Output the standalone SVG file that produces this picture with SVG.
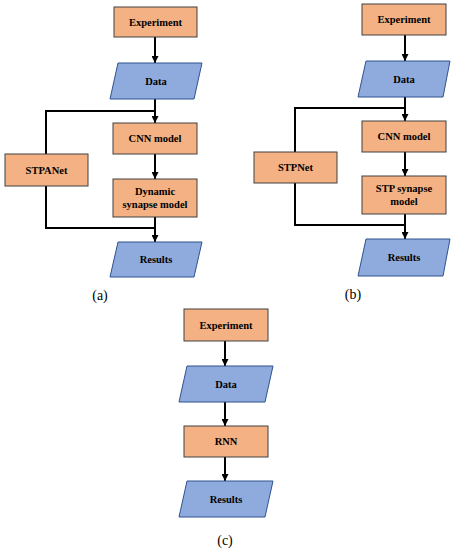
<svg xmlns="http://www.w3.org/2000/svg" width="454" height="550" viewBox="0 0 454 550">
<style>
.o{fill:#F4B183;stroke:#404040;stroke-width:1}
.b{fill:#8FAADC;stroke:#2F528F;stroke-width:1}
.t{font-family:"Liberation Serif",serif;font-weight:bold;font-size:10.5px;fill:#000;text-anchor:middle}
.c{fill:none;stroke:#000;stroke-width:2}
.lab{font-family:"Liberation Serif",serif;font-size:14px;fill:#000;text-anchor:middle}
</style>
<defs>
<marker id="ah" viewBox="0 0 10 10" refX="10" refY="5" markerWidth="3.5" markerHeight="3.5" orient="auto" markerUnits="strokeWidth">
<path d="M0,0 L10,5 L0,10 Z" fill="#000"/>
</marker>
</defs>
<rect width="454" height="550" fill="#fff"/>
<g id="connectors">
<line class="c" x1="155" y1="37" x2="155" y2="63" marker-end="url(#ah)"/>
<line class="c" x1="155" y1="99" x2="155" y2="123" marker-end="url(#ah)"/>
<polyline class="c" points="155,111 46,111 46,154"/>
<line class="c" x1="155" y1="154" x2="155" y2="179" marker-end="url(#ah)"/>
<polyline class="c" points="46,186 46,228 155,228"/>
<line class="c" x1="155" y1="217" x2="155" y2="242" marker-end="url(#ah)"/>
<line class="c" x1="405" y1="35" x2="405" y2="61" marker-end="url(#ah)"/>
<line class="c" x1="405" y1="97" x2="405" y2="121" marker-end="url(#ah)"/>
<polyline class="c" points="405,108 295,108 295,152"/>
<line class="c" x1="405" y1="152" x2="405" y2="176" marker-end="url(#ah)"/>
<polyline class="c" points="295,183 295,225 405,225"/>
<line class="c" x1="405" y1="214" x2="405" y2="239" marker-end="url(#ah)"/>
<line class="c" x1="225" y1="341" x2="225" y2="366" marker-end="url(#ah)"/>
<line class="c" x1="225" y1="402" x2="225" y2="426" marker-end="url(#ah)"/>
<line class="c" x1="225" y1="457" x2="225" y2="481" marker-end="url(#ah)"/>
</g>
<g id="a-experiment"><rect class="o" x="114" y="7" width="83" height="30"/><text class="t" x="155.5" y="25.5">Experiment</text></g>
<g id="a-data"><polygon class="b" points="118,63 202,63 194,99 110,99"/><text class="t" x="156" y="84.5">Data</text></g>
<g id="a-cnn"><rect class="o" x="113" y="123" width="84" height="31"/><text class="t" x="155" y="142">CNN model</text></g>
<g id="a-stpanet"><rect class="o" x="5" y="154" width="83" height="32"/><text class="t" x="46.5" y="173.5">STPANet</text></g>
<g id="a-dynamic"><rect class="o" x="113" y="179" width="84" height="38"/><text class="t" x="155" y="195">Dynamic</text><text class="t" x="155" y="208">synapse model</text></g>
<g id="a-results"><polygon class="b" points="118,242 202,242 194,277 110,277"/><text class="t" x="156" y="263">Results</text></g>
<text class="lab" x="100" y="300">(a)</text>

<g id="b-experiment"><rect class="o" x="362" y="4" width="84" height="31"/><text class="t" x="404" y="23">Experiment</text></g>
<g id="b-data"><polygon class="b" points="366,61 450,61 443,97 358,97"/><text class="t" x="404" y="82.5">Data</text></g>
<g id="b-cnn"><rect class="o" x="362" y="121" width="84" height="31"/><text class="t" x="404" y="140">CNN model</text></g>
<g id="b-stpnet"><rect class="o" x="254" y="152" width="83" height="31"/><text class="t" x="295.5" y="171">STPNet</text></g>
<g id="b-stp"><rect class="o" x="362" y="176" width="84" height="38"/><text class="t" x="404" y="192">STP synapse</text><text class="t" x="404" y="205">model</text></g>
<g id="b-results"><polygon class="b" points="366,239 450,239 443,276 358,276"/><text class="t" x="404" y="261">Results</text></g>
<text class="lab" x="353" y="299">(b)</text>

<g id="c-experiment"><rect class="o" x="184" y="309" width="84" height="32"/><text class="t" x="226" y="329">Experiment</text></g>
<g id="c-data"><polygon class="b" points="187,366 273,366 265,402 179,402"/><text class="t" x="226" y="387.5">Data</text></g>
<g id="c-rnn"><rect class="o" x="184" y="426" width="84" height="31"/><text class="t" x="226" y="445">RNN</text></g>
<g id="c-results"><polygon class="b" points="187,481 273,481 265,517 179,517"/><text class="t" x="226" y="503">Results</text></g>
<text class="lab" x="225" y="545">(c)</text>
</svg>
